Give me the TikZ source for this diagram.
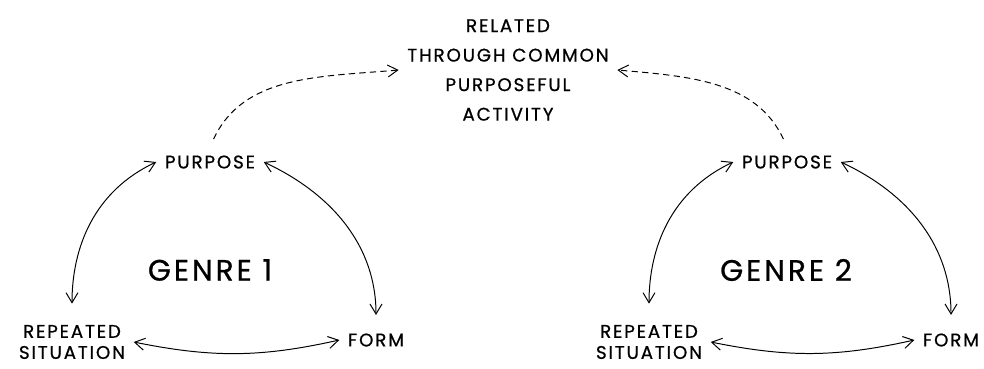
\documentclass[tikz,border=0pt]{standalone}
\usepackage{fontspec}
\setmainfont{Poppins}
\usetikzlibrary{arrows.meta}

\begin{document}
\begin{tikzpicture}[
    x=0.025cm, y=-0.025cm,
    lbl/.style={
        font=\fontsize{13}{15}\selectfont\addfontfeature{LetterSpace=10,FakeBold=0.7},
        align=center,
        inner sep=6pt
    },
    genre/.style={
        font=\fontsize{21}{25}\selectfont\addfontfeature{LetterSpace=10,FakeBold=0.8}
    },
    both/.style={
        {Straight Barb[length=2.5mm,width=3mm]}-{Straight Barb[length=2.5mm,width=3mm]},
        line width=0.7pt
    },
    link/.style={
        -{Straight Barb[length=2.5mm,width=3mm]},
        line width=0.7pt,
        dash pattern=on 4.5pt off 3pt
    }
]
    \useasboundingbox (0,0) rectangle (984,368);

    % Shared purpose
    \node[lbl] (rel) at (508,70) {RELATED\\[6pt]THROUGH COMMON\\[6pt]PURPOSEFUL\\[6pt]ACTIVITY};

    % Genre 1
    \node[lbl] (purp1) at (210,162) {PURPOSE};
    \node[genre] (gen1) at (210,270) {GENRE 1};
    \node[lbl] (rep1) at (72,342) {REPEATED\\SITUATION};
    \node[lbl] (form1) at (376,340) {FORM};

    % Genre 2
    \node[lbl] (purp2) at (787,162) {PURPOSE};
    \node[genre] (gen2) at (786,270) {GENRE 2};
    \node[lbl] (rep2) at (649,342) {REPEATED\\SITUATION};
    \node[lbl] (form2) at (951,340) {FORM};

    % Cycles
    \draw[both, shorten >=9pt] (purp1.west) to[out=205, in=90] (rep1.north);
    \draw[both, shorten >=7pt] (purp1.east) to[out=-25, in=90] (form1.north);
    \draw[both] (rep1.east) to[bend right=12] (form1.west);

    \draw[both, shorten >=9pt] (purp2.west) to[out=205, in=90] (rep2.north);
    \draw[both, shorten >=7pt] (purp2.east) to[out=-25, in=90] (form2.north);
    \draw[both] (rep2.east) to[bend right=12] (form2.west);

    % Links to the common activity
    \draw[link, shorten <=6pt] (purp1.north) to[out=65, in=185] (rel.west);
    \draw[link, shorten <=6pt] (purp2.north) to[out=115, in=-5] (rel.east);
\end{tikzpicture}
\end{document}
